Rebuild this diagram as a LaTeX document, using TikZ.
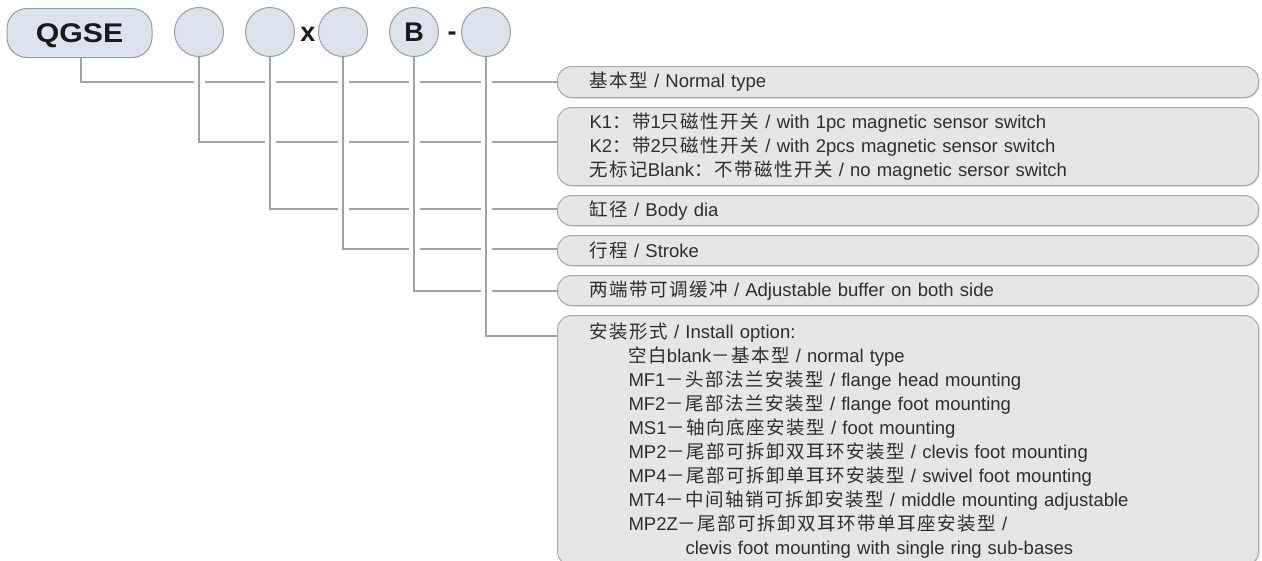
\documentclass[tikz,border=0pt]{standalone}
\usepackage{fontspec}
\usepackage{graphicx}
\setmainfont{Liberation Sans}
\newfontfamily\cjk{Noto Sans CJK SC}[LetterSpace=8]
\usetikzlibrary{shadows}
\definecolor{linecol}{HTML}{A3A3A3}
\definecolor{boxfill}{HTML}{E6E6E8}
\definecolor{boxline}{HTML}{A8A8A8}
\definecolor{ringfill}{HTML}{DDE3EE}
\definecolor{ringline}{HTML}{9C9C9C}
\definecolor{txt}{HTML}{2E2E2E}
\definecolor{titletxt}{HTML}{1A1A1A}
\begin{document}
\begin{tikzpicture}[x=1pt,y=-1pt,
  conn/.style={draw=linecol, line width=2pt, preaction={draw=white, line width=11pt}},
  bigbox/.style={draw=boxline, fill=boxfill, line width=1pt, rounded corners=14pt,
    anchor=north west, minimum width=701pt, text width=637pt, inner xsep=32pt,
    inner ysep=0pt, align=left, text=txt,
    font=\fontsize{18.5pt}{24pt}\selectfont,
    drop shadow={shadow xshift=1pt, shadow yshift=-1pt, opacity=0.3, fill=gray}},
  ring/.style={circle, draw=ringline, fill=ringfill, line width=1pt,
    minimum size=49pt, inner sep=0pt},
  code/.style={font=\fontsize{27pt}{30pt}\selectfont\bfseries, text=titletxt, inner sep=0pt}]
\useasboundingbox (0,0) rectangle (1262,560);
\fill[white] (0,0) rectangle (1262,560);

% description boxes
\node[bigbox, minimum height=31pt] (b1) at (557,66) {{\cjk 基本型} / Normal type};
\node[bigbox, minimum height=78pt] (b2) at (557,107) {K1{\cjk ：带}1{\cjk 只磁性开关} / with 1pc magnetic sensor switch\\
K2{\cjk ：带}2{\cjk 只磁性开关} / with 2pcs magnetic sensor switch\\
{\cjk 无标记}Blank{\cjk ：不带磁性开关} / no magnetic sersor switch};
\node[bigbox, minimum height=30pt] (b3) at (557,195) {{\cjk 缸径} / Body dia};
\node[bigbox, minimum height=30pt] (b4) at (557,235) {{\cjk 行程} / Stroke};
\node[bigbox, minimum height=30pt] (b5) at (557,275) {{\cjk 两端带可调缓冲} / Adjustable buffer on both side};
\node[bigbox, minimum height=250pt] (b6) at (557,315) {{\cjk 安装形式} / Install option:\\
\hspace*{39pt}{\cjk 空白}blank{\cjk －基本型} / normal type\\
\hspace*{39pt}MF1{\cjk －头部法兰安装型} / flange head mounting\\
\hspace*{39pt}MF2{\cjk －尾部法兰安装型} / flange foot mounting\\
\hspace*{39pt}MS1{\cjk －轴向底座安装型} / foot mounting\\
\hspace*{39pt}MP2{\cjk －尾部可拆卸双耳环安装型} / clevis foot mounting\\
\hspace*{39pt}MP4{\cjk －尾部可拆卸单耳环安装型} / swivel foot mounting\\
\hspace*{39pt}MT4{\cjk －中间轴销可拆卸安装型} / middle mounting adjustable\\
\hspace*{39pt}MP2Z{\cjk －尾部可拆卸双耳环带单耳座安装型} /\\
\hspace*{96pt}clevis foot mounting with single ring sub-bases};

% code row (positions only, drawn after connectors)
\path (79.5,31.5) coordinate (qc);
\coordinate (e1) at (b1.west);
\coordinate (e2) at ([yshift=5pt]b2.west);
\coordinate (e3) at ([yshift=2pt]b3.west);
\coordinate (e4) at ([yshift=2pt]b4.west);
\coordinate (e5) at (b5.west);
\coordinate (e6) at ([yshift=-21pt]b6.north west);

\node[ring, draw=none, fill=none] (c1) at (199,32) {};
\node[ring, draw=none, fill=none] (c2) at (270,32) {};
\node[ring, draw=none, fill=none] (c3) at (343,32) {};
\node[ring, draw=none, fill=none] (c4) at (414,32) {};
\node[ring, draw=none, fill=none] (c5) at (486,32) {};
\node[draw=none, minimum width=145pt, minimum height=49pt, inner sep=0pt] (q) at (qc) {};

% connectors
\draw[conn] ([xshift=1.5pt]q.south) |- (e1);
\draw[conn] (c1.south) |- (e2);
\draw[conn] (c2.south) |- (e3);
\draw[conn] (c3.south) |- (e4);
\draw[conn] (c4.south) |- (e5);
\draw[conn] (c5.south) |- (e6);

% visible code row
\node[draw=ringline, fill=ringfill, line width=1pt, rounded corners=20pt,
  minimum width=145pt, minimum height=49pt, inner sep=0pt, code,
  text height=19pt, text depth=0pt] (qv) at ([yshift=-1.5pt]qc)
  {\scalebox{1.12}[1]{QGSE}};
\node[ring] (r1) at (c1) {};
\node[ring] (r2) at (c2) {};
\node[ring] (r3) at (c3) {};
\node[ring, code, text height=19pt, text depth=0pt] (r4) at (c4) {B};
\node[ring] (r5) at (c5) {};
\node[code] (xx) at (308,34) {x};
\node[code] (dd) at (452,36) {-};
\end{tikzpicture}
\end{document}
